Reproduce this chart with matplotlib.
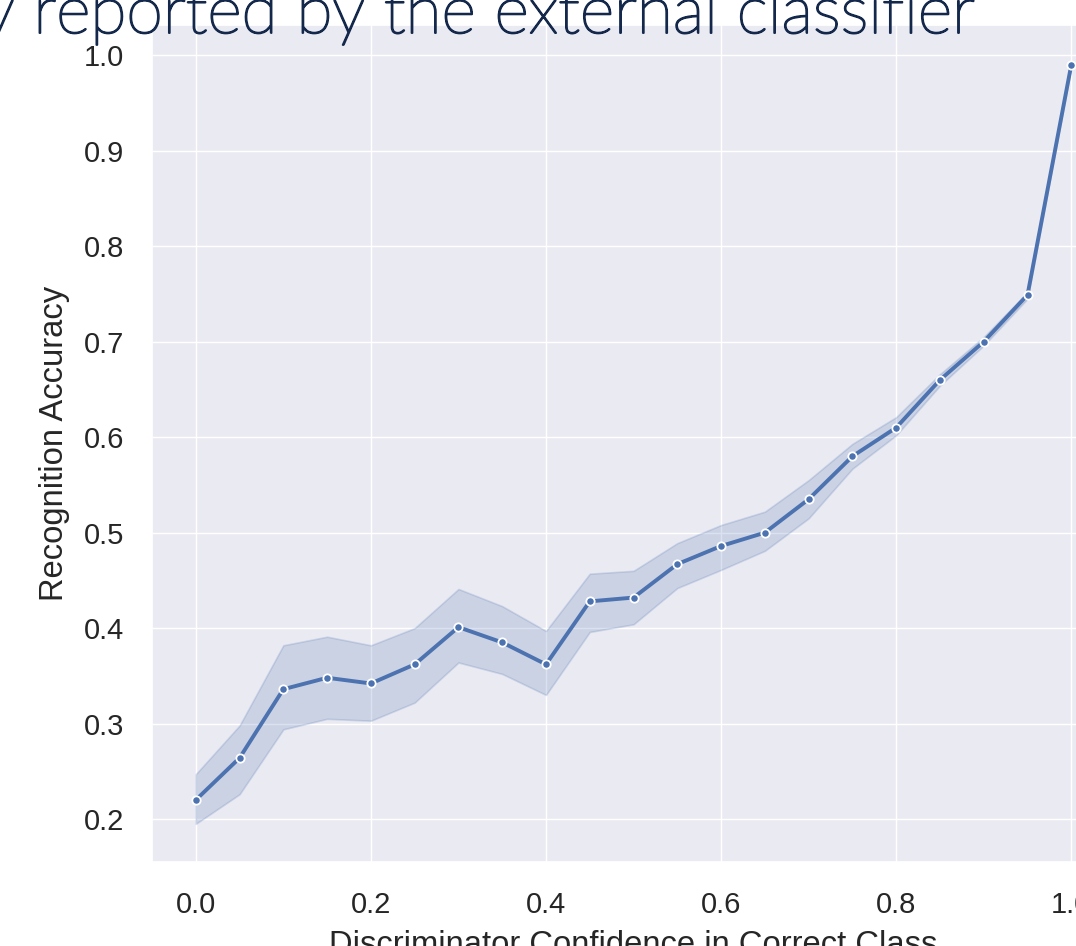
import matplotlib
matplotlib.use("Agg")
import matplotlib.pyplot as plt
import matplotlib.patheffects as pe
import seaborn as sns

# discriminator confidence bins and recognition accuracy (mean with CI band)
confidence = [0.0, 0.05, 0.10, 0.15, 0.20, 0.25, 0.30, 0.35, 0.40, 0.45, 0.50,
              0.55, 0.60, 0.65, 0.70, 0.75, 0.80, 0.85, 0.90, 0.95, 1.0]
accuracy = [0.220, 0.264, 0.336, 0.348, 0.342, 0.362, 0.401, 0.385, 0.362, 0.428, 0.432,
            0.467, 0.486, 0.500, 0.535, 0.580, 0.610, 0.660, 0.700, 0.749, 0.990]
ci_low = [0.195, 0.226, 0.294, 0.305, 0.303, 0.322, 0.364, 0.352, 0.330, 0.396, 0.404,
          0.442, 0.461, 0.481, 0.515, 0.567, 0.602, 0.654, 0.696, 0.745, 0.988]
ci_high = [0.247, 0.298, 0.382, 0.391, 0.382, 0.400, 0.441, 0.423, 0.397, 0.457, 0.460,
           0.489, 0.508, 0.522, 0.555, 0.593, 0.621, 0.666, 0.705, 0.752, 0.992]

sns.set_theme(style="darkgrid")
plt.rcParams['font.family'] = ['Liberation Sans', 'DejaVu Sans']

fig = plt.figure(figsize=(10.76, 9.46), dpi=100)
ax = fig.add_axes([0.1413, 0.0888, 0.895, 0.885])

blue = sns.color_palette()[0]
ax.fill_between(confidence, ci_low, ci_high, color=blue, alpha=0.2, linewidth=1.2)
ax.plot(confidence, accuracy, color=blue, linewidth=2.8, marker='o', markersize=6,
        markeredgecolor='white', markeredgewidth=1.3)

ax.set_xlim(-0.05, 1.05)
ax.set_ylim(0.155, 1.032)
ax.set_xticks([0.0, 0.2, 0.4, 0.6, 0.8, 1.0])
ax.set_yticks([0.2, 0.3, 0.4, 0.5, 0.6, 0.7, 0.8, 0.9, 1.0])
ax.tick_params(axis='x', labelsize=21, pad=15)
ax.tick_params(axis='y', labelsize=21, pad=14)
ax.set_xlabel("Discriminator Confidence in Correct Class", fontsize=23.6, labelpad=8)
ax.set_ylabel("Recognition Accuracy", fontsize=23.6, labelpad=10)

# slide heading behind the chart, light face thickened a little
navy = '#14284b'
fig.text(975 / 1076, 1 - 33 / 946, "Accuracy reported by the external classifier",
         ha='right', va='baseline', fontsize=47.7, fontweight='light', color=navy,
         family=['Lato', 'DejaVu Sans'],
         path_effects=[pe.withStroke(linewidth=1.4, foreground=navy)])

fig.savefig("out.png", dpi=100)
